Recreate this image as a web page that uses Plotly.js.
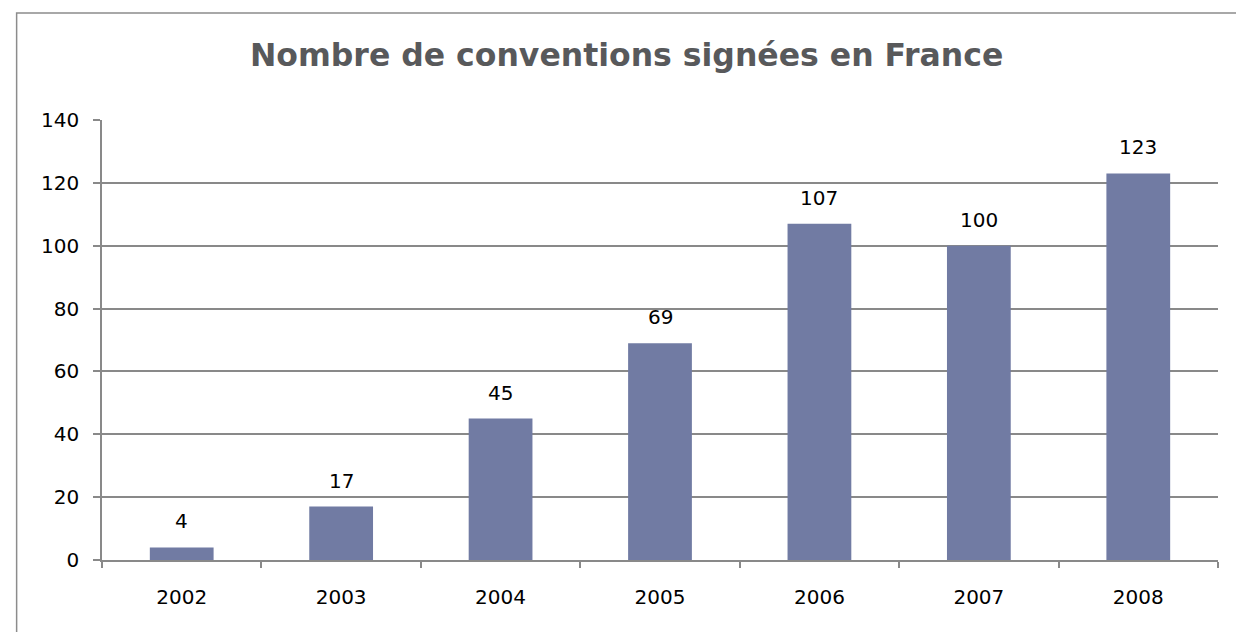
<!DOCTYPE html>
<html><head><meta charset="utf-8">
<script src="https://cdn.plot.ly/plotly-3.0.1.min.js"></script>
<style>html,body{margin:0;padding:0;background:#fff;}#chart{width:1236px;height:632px;}</style>
</head><body><div id="chart"></div>
<script>
const years = ['2002','2003','2004','2005','2006','2007','2008'];
const conventions = [4, 17, 45, 69, 107, 100, 123];
const yTicks = [0, 20, 40, 60, 80, 100, 120, 140];

const FONT = '"DejaVu Sans", sans-serif';
const trace = {
  type: 'bar', x: years, y: conventions,
  marker: {color: '#717ba3'},
  hoverinfo: 'x+y'
};
const annotations = years.map((yr, i) => ({
  x: i, y: conventions[i], xref: 'x', yref: 'y',
  text: String(conventions[i]), showarrow: false,
  yanchor: 'bottom', yshift: 12,
  font: {family: FONT, size: 20, color: '#000'}
}));
const layout = {
  width: 1236, height: 632,
  margin: {l: 102, r: 18, t: 120, b: 72},
  paper_bgcolor: '#fff', plot_bgcolor: '#fff',
  title: {text: 'Nombre de conventions signées en France', x: 0.507, xanchor: 'center', y: 0.913, yanchor: 'middle',
    font: {family: FONT, size: 31.5, color: '#58595b', weight: 'bold'}},
  bargap: 0.6,
  xaxis: {type: 'category', range: [-0.5, years.length - 0.5], autorange: false,
    showline: true, linecolor: '#898989', linewidth: 1.5,
    ticks: 'outside', tickson: 'boundaries', ticklen: 6, tickcolor: '#898989', tickwidth: 1.5,
    ticklabelstandoff: 18, tickangle: 0,
    tickfont: {family: FONT, size: 20, color: '#000'}, showgrid: false},
  yaxis: {range: [0, 140], autorange: false, tickvals: yTicks, showline: true, linecolor: '#898989', linewidth: 1.5,
    ticks: 'outside', ticklen: 7, tickcolor: '#898989', tickwidth: 1.5,
    ticklabelstandoff: 10,
    gridcolor: '#898989', gridwidth: 1.5, zeroline: false,
    tickfont: {family: FONT, size: 20, color: '#000'}},
  annotations: annotations,
  shapes: [{type: 'rect', xref: 'paper', yref: 'paper', x0: -0.0765, x1: 1.1, y0: -0.5, y1: 1.243,
    line: {color: '#8c8c8c', width: 1.5}, fillcolor: 'rgba(0,0,0,0)', layer: 'above'}],
  showlegend: false
};
Plotly.newPlot('chart', [trace], layout, {displayModeBar: false});
</script></body></html>
